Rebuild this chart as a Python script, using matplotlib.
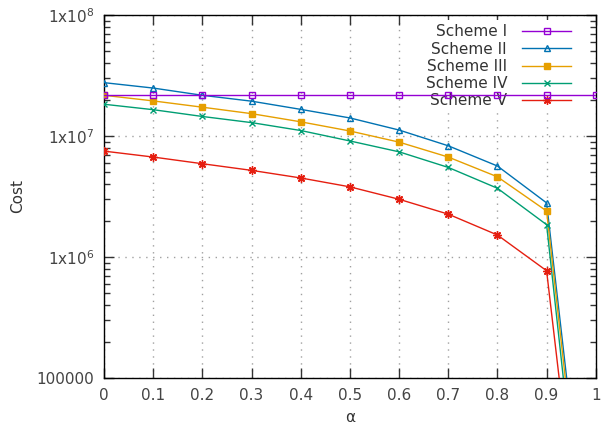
import numpy as np
import matplotlib.pyplot as plt
from matplotlib.ticker import FixedLocator, LogLocator, NullFormatter, NullLocator

alpha = [0, 0.1, 0.2, 0.3, 0.4, 0.5, 0.6, 0.7, 0.8, 0.9, 1.0]

scheme1 = [2.17e7] * 11
scheme2 = [2.76e7, 2.49e7, 2.17e7, 1.94e7, 1.66e7, 1.41e7, 1.12e7, 8.3e6, 5.65e6, 2.8e6, 800]
scheme3 = [2.17e7, 1.95e7, 1.73e7, 1.53e7, 1.31e7, 1.10e7, 8.9e6, 6.7e6, 4.6e6, 2.4e6, 560]
scheme4 = [1.83e7, 1.65e7, 1.45e7, 1.29e7, 1.11e7, 9.1e6, 7.4e6, 5.5e6, 3.7e6, 1.85e6, 350]
scheme5 = [7.5e6, 6.7e6, 5.9e6, 5.2e6, 4.5e6, 3.8e6, 3.0e6, 2.26e6, 1.52e6, 7.7e5, 260]

names = ["Scheme I", "Scheme II", "Scheme III", "Scheme IV", "Scheme V"]
colors = ["#9400d3", "#0072b2", "#e69f00", "#009e73", "#e51e10"]
# gnuplot point types: open square, open triangle, filled square, x, star (+ and x)
markers = ["s", "^", "s", "x", (8, 2, 0)]
msizes = [5, 5, 5, 5, 6]
fills = ["none", "none", "full", "full", "full"]

fig = plt.figure(figsize=(6.03, 4.25), dpi=100)
ax = fig.add_axes([0.1725, 0.1106, 0.8155, 0.8541])

series = [scheme1, scheme2, scheme3, scheme4, scheme5]
for i, (s, name, c, m, f) in enumerate(zip(series, names, colors, markers, fills)):
    kw = dict(color=c, marker=m, linewidth=1, markersize=msizes[i], label=name,
              markeredgewidth=1)
    if f == "none":
        kw["markerfacecolor"] = "none"
    z = 6 if i == 0 else 4
    ax.plot(alpha, s, zorder=z, **kw)

ax.set_yscale("log")
ax.set_xlim(0, 1)
ax.set_ylim(1e5, 1e8)

ax.xaxis.set_major_locator(FixedLocator(alpha))
ax.set_xticklabels(["0", "0.1", "0.2", "0.3", "0.4", "0.5", "0.6", "0.7", "0.8", "0.9", "1"])
ax.xaxis.set_minor_locator(NullLocator())
ax.yaxis.set_major_locator(FixedLocator([1e5, 1e6, 1e7, 1e8]))
ax.set_yticklabels(["100000", r"1x10$^{6}$", r"1x10$^{7}$", r"1x10$^{8}$"])
ax.yaxis.set_minor_locator(LogLocator(base=10, subs=np.arange(2, 10)))
ax.yaxis.set_minor_formatter(NullFormatter())

ax.tick_params(which="both", direction="in", top=True, right=True, labelsize=11,
               colors="#333333", labelcolor="#444444")
ax.tick_params(which="major", length=7, width=1, pad=7)
ax.tick_params(which="minor", length=4, width=1)
for sp in ax.spines.values():
    sp.set_color("black")
    sp.set_linewidth(1)

ax.grid(True, which="major", linestyle=(0, (1, 4)), color="#a0a0a0", linewidth=1, zorder=0)
ax.set_axisbelow(True)

ax.set_xlabel("α", fontsize=11, color="#333333", labelpad=5)
ax.set_ylabel("Cost", fontsize=11, color="#333333", labelpad=8)

leg = ax.legend(loc="upper right", bbox_to_anchor=(0.975, 1.008), markerfirst=False,
                frameon=True, fontsize=11, handlelength=3.2, handletextpad=1.0,
                labelspacing=0.15, borderpad=0.3)
leg.get_frame().set_edgecolor("none")
leg.get_frame().set_facecolor("white")
leg.get_frame().set_alpha(1)
leg.set_zorder(5)
for t in leg.get_texts():
    t.set_color("#333333")

fig.savefig("out.png", dpi=100)
